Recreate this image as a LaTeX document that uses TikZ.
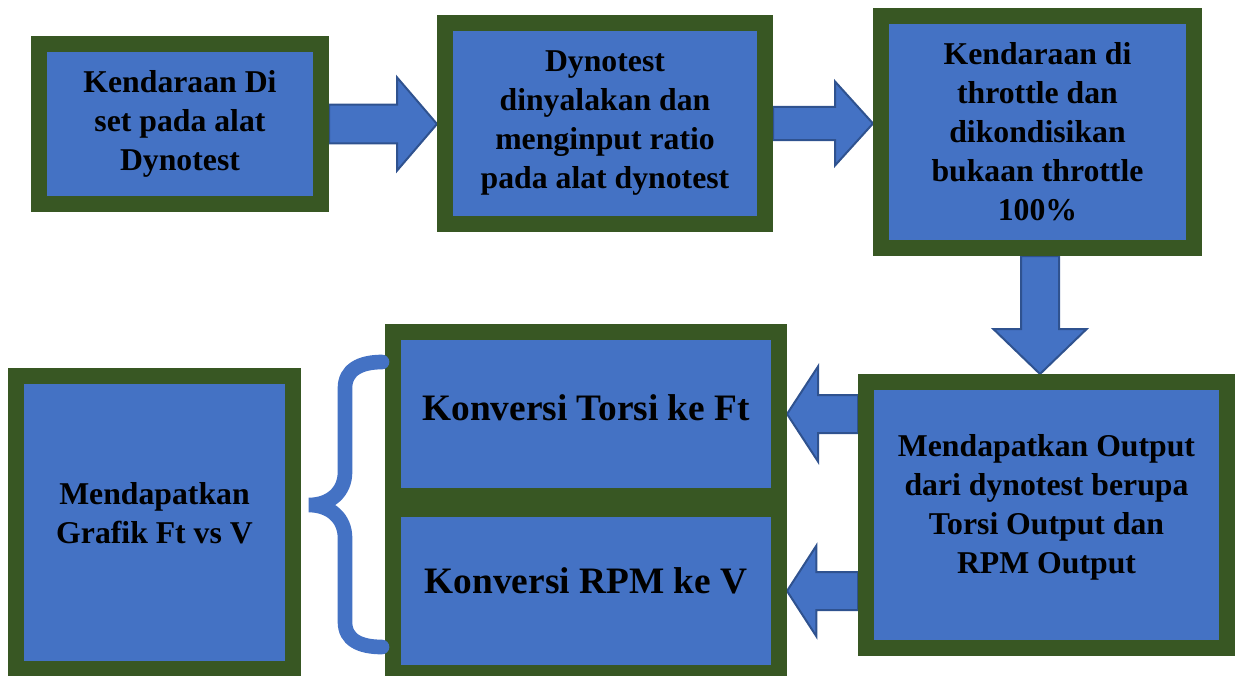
\documentclass[tikz,border=0pt]{standalone}
\usepackage{fontspec}
\setmainfont{Liberation Serif}
\usepackage{tikz}
\usetikzlibrary{calc,positioning,backgrounds}
\definecolor{boxgreen}{HTML}{385723}
\definecolor{boxblue}{HTML}{4472C4}
\definecolor{arrowedge}{HTML}{2F528F}
\tikzset{flow box/.style={
    draw=boxgreen, fill=boxblue,
    line width=12pt, outer sep=6pt,
    inner sep=0pt, align=center,
    font=\fontsize{23.8}{29.25}\selectfont\bfseries
  },
  box size/.style 2 args={minimum width=#1*0.75pt, minimum height=#2*0.75pt},
  big text/.style={font=\fontsize{28}{34}\selectfont\bfseries},
  lift text/.style={text depth=#1},
  block arrow/.style={draw=arrowedge, fill=boxblue, line width=1.5pt},
  curly/.style={draw=boxblue, line width=11pt, line cap=round}
}
% fat arrow: from, to, half shaft, half head, head length
\newcommand{\blockarrow}[5]{%
  \coordinate (ah) at ($(#2)!#5!(#1)$);
  \draw[block arrow] ($(#1)!#3!90:(#2)$) -- ($(ah)!#3!90:(#2)$)
    -- ($(ah)!#4!90:(#2)$) -- (#2) -- ($(ah)!#4!-90:(#2)$)
    -- ($(ah)!#3!-90:(#2)$) -- ($(#1)!#3!-90:(#2)$) -- cycle;
}

\begin{document}
\begin{tikzpicture}[x=0.75pt,y=-0.75pt]
    \useasboundingbox (0,0) rectangle (1238,675);

    \node[flow box, box size={282}{160}] (veh) at (180,124)
        {Kendaraan Di\\set pada alat\\Dynotest};
    \node[flow box, box size={320}{201}] (dyno) at (605,123.5)
        {Dynotest\\dinyalakan dan\\menginput ratio\\pada alat dynotest};
    \node[flow box, box size={313}{232}] (throttle) at (1037.5,132)
        {Kendaraan di\\throttle dan\\dikondisikan\\bukaan throttle\\100\%};
    \node[flow box, lift text=17pt, box size={361}{266}] (output) at (1046.5,515)
        {Mendapatkan Output\\dari dynotest berupa\\Torsi Output dan\\RPM Output};
    \node[flow box, big text, lift text=10pt, box size={386}{164}] (torsi) at (586,414)
        {Konversi Torsi ke Ft};
    \node[flow box, big text, lift text=16pt, box size={386}{164}] (rpm) at (586,591)
        {Konversi RPM ke V};
    \node[flow box, lift text=14pt, box size={277}{293}] (grafik) at (154.5,522.5)
        {Mendapatkan\\Grafik Ft vs V};

    \begin{scope}[on background layer]
        \coordinate (in1) at (dyno.west |- veh.east);
        \coordinate (in2) at (throttle.west |- dyno.east);
        \coordinate (down) at (throttle.south -| 1040,0);
        \coordinate (o1) at (output.west |- torsi.east);
        \coordinate (o2) at (output.west |- rpm.east);
        \blockarrow{veh.east}{in1}{14.6pt}{35pt}{30pt}
        \blockarrow{dyno.east}{in2}{12.4pt}{31.5pt}{28.5pt}
        \blockarrow{down}{down |- output.north}{14.25pt}{35pt}{33.75pt}
        \blockarrow{o1}{torsi.east}{14.25pt}{35.6pt}{23.25pt}
        \blockarrow{o2}{rpm.east}{14.25pt}{34pt}{22pt}
    \end{scope}

    \draw[curly] (382,362) .. controls (360,362) and (345,370) .. (345,388)
        -- (345,472) .. controls (345,492) and (330,505) .. (309,505)
        .. controls (330,505) and (345,518) .. (345,538)
        -- (345,622) .. controls (345,640) and (360,647) .. (382,647);
\end{tikzpicture}
\end{document}
